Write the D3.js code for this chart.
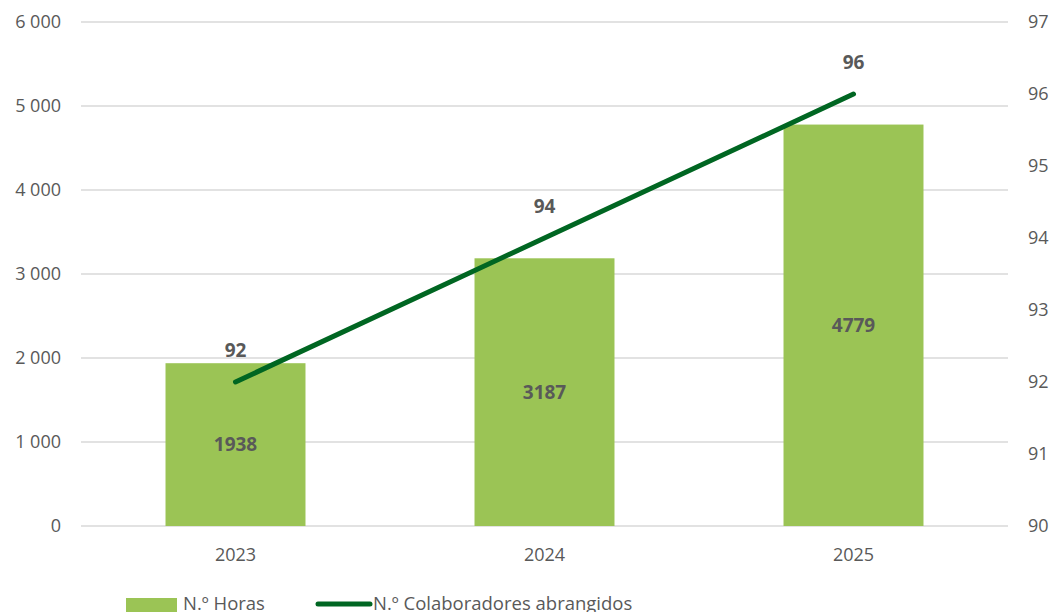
<!DOCTYPE html>
<html><head><meta charset="utf-8">
<script src="https://cdn.jsdelivr.net/npm/d3@7"></script>
<style>body{margin:0;background:#fff}svg{display:block}text{font-family:"Open Sans",sans-serif}</style>
</head><body><svg id="c" width="1055" height="612"></svg>
<script>
const categories = ["2023","2024","2025"];
const horas = [1938, 3187, 4779];
const colaboradores = [92, 94, 96];
const leftTicks = [0,1000,2000,3000,4000,5000,6000];
const rightTicks = [90,91,92,93,94,95,96,97];

const svg = d3.select("#c");
const L = 81, R = 1008, T = 22, B = 526;
const x = d3.scaleBand().domain(categories).range([L,R]).paddingInner(0.547).paddingOuter(0.2735);
const yL = d3.scaleLinear().domain([0,6000]).range([B,T]);
const yR = d3.scaleLinear().domain([90,97]).range([B,T]);
const fmt = d => d3.format(",")(d).replace(/,/g," ");
const txt = "#595959";
const fs = 18;

svg.append("g").selectAll("line").data(leftTicks).join("line")
  .attr("x1",L).attr("x2",R).attr("y1",d=>yL(d)).attr("y2",d=>yL(d))
  .attr("stroke","#d9d9d9").attr("stroke-width",1.3);

svg.append("g").selectAll("text").data(leftTicks).join("text")
  .attr("x",61).attr("y",d=>yL(d)).attr("dy","0.35em").attr("text-anchor","end")
  .attr("font-size",fs).attr("fill",txt).text(fmt);
svg.append("g").selectAll("text").data(rightTicks).join("text")
  .attr("x",1028).attr("y",d=>yR(d)).attr("dy","0.35em").attr("text-anchor","start")
  .attr("font-size",fs).attr("fill",txt).text(d=>d);
svg.append("g").selectAll("text").data(categories).join("text")
  .attr("x",d=>x(d)+x.bandwidth()/2).attr("y",555).attr("dy","0.35em").attr("text-anchor","middle")
  .attr("font-size",fs).attr("fill",txt).text(d=>d);

svg.append("g").selectAll("rect").data(horas).join("rect")
  .attr("x",(d,i)=>x(categories[i])).attr("width",x.bandwidth())
  .attr("y",d=>yL(d)).attr("height",d=>B-yL(d)).attr("fill","#9BC455");

svg.append("g").selectAll("text").data(horas).join("text")
  .attr("x",(d,i)=>x(categories[i])+x.bandwidth()/2).attr("y",d=>(yL(d)+B)/2).attr("dy","0.35em")
  .attr("text-anchor","middle").attr("font-size",19).attr("font-weight","bold").attr("fill",txt).text(d=>d);

const line = d3.line().x((d,i)=>x(categories[i])+x.bandwidth()/2).y(d=>yR(d));
svg.append("path").datum(colaboradores).attr("d",line).attr("fill","none")
  .attr("stroke","#006622").attr("stroke-width",5).attr("stroke-linecap","round");

svg.append("g").selectAll("text").data(colaboradores).join("text")
  .attr("x",(d,i)=>x(categories[i])+x.bandwidth()/2).attr("y",d=>yR(d)-32).attr("dy","0.35em")
  .attr("text-anchor","middle").attr("font-size",19).attr("font-weight","bold").attr("fill",txt).text(d=>d);

// legend
const lg = svg.append("g");
lg.append("rect").attr("x",126).attr("y",598).attr("width",51).attr("height",16).attr("fill","#9BC455");
lg.append("text").attr("x",183).attr("y",609.5).attr("font-size",18.5).attr("fill",txt).text("N.º Horas");
lg.append("line").attr("x1",318).attr("x2",370).attr("y1",604).attr("y2",604)
  .attr("stroke","#006622").attr("stroke-width",5).attr("stroke-linecap","round");
lg.append("text").attr("x",373).attr("y",609.5).attr("font-size",18.5).attr("fill",txt).text("N.º Colaboradores abrangidos");
</script></body></html>
